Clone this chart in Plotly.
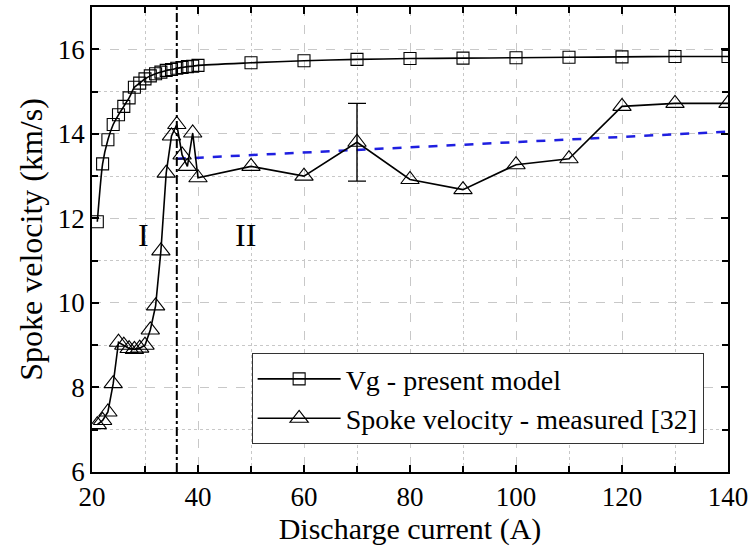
import plotly.graph_objects as go

# Model group velocity Vg (km/s) versus discharge current (A)
vg_current = [21, 22, 23, 24, 25, 26, 27, 28, 29, 30, 31, 32, 33, 34, 35, 36, 37, 38, 39, 40,
              50, 60, 70, 80, 90, 100, 110, 120, 130, 140]
vg_velocity = [11.92, 13.29, 13.86, 14.22, 14.45, 14.65, 14.85, 15.1, 15.2, 15.3, 15.37, 15.42,
               15.46, 15.5, 15.52, 15.55, 15.57, 15.59, 15.6, 15.62,
               15.68, 15.73, 15.76, 15.78, 15.79, 15.8, 15.81, 15.82, 15.83, 15.83]

# Measured spoke velocity (km/s)
meas_current = [21, 22, 23, 24, 25, 26, 27, 28, 29, 30, 31, 32, 33, 34, 35, 36, 37, 38, 39, 40,
                50, 60, 70, 80, 90, 100, 110, 120, 130, 140]
meas_velocity = [7.12, 7.22, 7.42, 8.09, 9.07, 9.0, 8.92, 8.9, 8.93, 9.0, 9.36, 9.93, 11.23,
                 13.07, 13.95, 14.22, 13.5, 13.23, 14.02, 12.96,
                 13.23, 13.0, 13.8, 12.92, 12.68, 13.27, 13.41, 14.65, 14.72, 14.72]

# Error bar on the 70 A measurement
err_current = [70]
err_velocity = [13.8]
err_size = [0.92]

# Linear trend of region II
fit_current = [36, 140]
fit_velocity = [13.41, 14.05]

# Boundary between regions I and II
transition_current = 36

region_labels = ["I", "II"]
region_label_x = [29.7, 48.9]
region_label_y = [11.6, 11.6]

SERIF = "Liberation Serif"

fig = go.Figure()

fig.add_trace(go.Scatter(
    x=fit_current, y=fit_velocity, mode="lines",
    line=dict(color="#1f1fe0", width=2.5, dash="dash"),
    showlegend=False, hoverinfo="skip",
))

fig.add_trace(go.Scatter(
    x=vg_current, y=vg_velocity, mode="lines+markers",
    name="Vg - present model",
    line=dict(color="black", width=1.6, shape="spline", smoothing=0.6),
    marker=dict(symbol="square-open", size=12, color="black", line=dict(width=1.1)),
))

fig.add_trace(go.Scatter(
    x=meas_current, y=meas_velocity, mode="lines+markers",
    name="Spoke velocity - measured [32]",
    line=dict(color="black", width=1.6),
    marker=dict(symbol="triangle-up-open", size=16, color="black", line=dict(width=1.1)),
))

fig.add_trace(go.Scatter(
    x=err_current, y=err_velocity, mode="markers",
    marker=dict(size=1, color="rgba(0,0,0,0)"),
    error_y=dict(type="data", array=err_size, symmetric=True,
                 color="black", thickness=1.4, width=9),
    showlegend=False, hoverinfo="skip",
))

fig.add_vline(x=transition_current, line=dict(color="black", width=2, dash="dashdot"))

for txt, lx, ly in zip(region_labels, region_label_x, region_label_y):
    fig.add_annotation(x=lx, y=ly, text=txt, showarrow=False,
                       font=dict(family=SERIF, size=32, color="black"))

axis_common = dict(
    showline=True, linecolor="black", linewidth=1.8, mirror="allticks",
    ticks="inside", ticklen=7, tickwidth=1.5, tickcolor="black",
    showgrid=True, gridcolor="#c8c8c8", gridwidth=1, griddash="dash",
    zeroline=False,
    tickfont=dict(family=SERIF, size=27, color="black"),
)

fig.update_xaxes(
    range=[20, 140], dtick=20, tick0=20,
    minor=dict(dtick=10, ticks="inside", ticklen=6, tickwidth=1.5, tickcolor="black",
               showgrid=True, gridcolor="#c8c8c8", griddash="dot"),
    title=dict(text="Discharge current (A)", font=dict(family=SERIF, size=30, color="black"),
               standoff=5),
    **axis_common,
)
fig.update_yaxes(
    range=[6, 17], dtick=2, tick0=6,
    minor=dict(dtick=1, ticks="inside", ticklen=6, tickwidth=1.5, tickcolor="black",
               showgrid=True, gridcolor="#c8c8c8", griddash="dot"),
    title=dict(text="Spoke velocity (km/s)", font=dict(family=SERIF, size=32, color="black"),
               standoff=6),
    **axis_common,
)

fig.update_layout(
    width=753, height=552,
    margin=dict(l=92, r=25, t=5, b=80),
    paper_bgcolor="white", plot_bgcolor="white",
    legend=dict(
        x=0.251, y=0.2555, xanchor="left", yanchor="top",
        bgcolor="white", bordercolor="#333", borderwidth=1,
        font=dict(family=SERIF, size=28, color="black"),
        itemwidth=83, tracegroupgap=0,
    ),
    showlegend=True,
)

fig.write_html("out.html")
